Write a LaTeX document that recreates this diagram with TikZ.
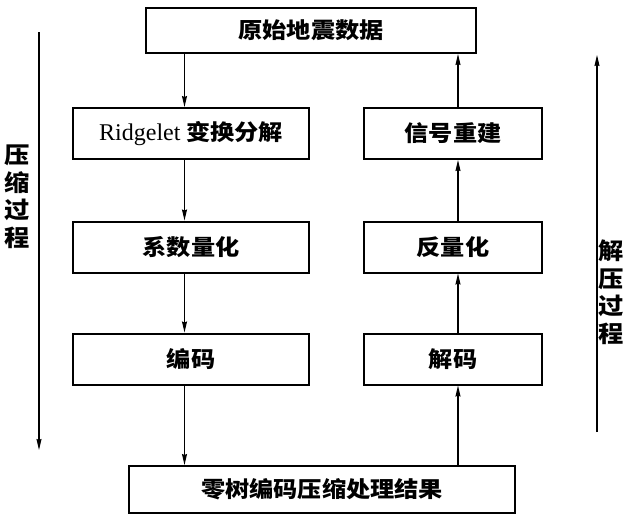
\documentclass[tikz,border=0pt]{standalone}
\usepackage{fontspec}
\setmainfont{Liberation Serif}
\newfontfamily\cjk{Noto Sans CJK SC}[FakeStretch=1.1]
\usetikzlibrary{arrows.meta}
\tikzset{
  box/.style={draw, line width=2pt, minimum height=51pt, inner sep=0pt, font=\fontsize{22}{24}\selectfont\cjk\bfseries},
  arr/.style={line width=1.1pt, -{Stealth[length=11pt,width=5pt,inset=1pt]}},
  side/.style={align=center, inner sep=0pt, font=\fontsize{23}{27.5}\selectfont\cjk\bfseries}
}
\begin{document}
\begin{tikzpicture}[x=1pt,y=-1pt]
\useasboundingbox (0,0) rectangle (627,515);
\node[box, minimum width=330pt, minimum height=45pt] (top) at (311,30.5) {原始地震数据};
\node[box, minimum width=236pt] (ridge) at (191,133.5) {{\rmfamily\mdseries\fontsize{24}{24}\selectfont Ridgelet} 变换分解};
\node[box, minimum width=178pt] (signal) at (453,133.5) {信号重建};
\node[box, minimum width=236pt] (quant) at (191,247) {系数量化};
\node[box, minimum width=178pt] (dequant) at (453,247) {反量化};
\node[box, minimum width=236pt] (enc) at (191,359) {编码};
\node[box, minimum width=178pt] (dec) at (453,359) {解码};
\node[box, minimum width=386pt, minimum height=47pt] (bottom) at (322,489.5) {零树编码压缩处理结果};
\coordinate (lx) at (184.5,0);
\coordinate (rx) at (458,0);
\draw[arr] (top.south -| lx) -- (ridge.north -| lx);
\draw[arr] (ridge.south -| lx) -- (quant.north -| lx);
\draw[arr] (quant.south -| lx) -- (enc.north -| lx);
\draw[arr] (enc.south -| lx) -- (bottom.north -| lx);
\draw[arr] (bottom.north -| rx) -- (dec.south -| rx);
\draw[arr] (dec.north -| rx) -- (dequant.south -| rx);
\draw[arr] (dequant.north -| rx) -- (signal.south -| rx);
\draw[arr] (signal.north -| rx) -- (top.south -| rx);
\coordinate (ls) at (39,32);
\coordinate (le) at (39,450);
\coordinate (rs) at (597,432);
\coordinate (re) at (597,55);
\draw[arr] (ls) -- (le);
\draw[arr] (rs) -- (re);
\node[side] (lab1) at (17,197) {压\\缩\\过\\程};
\node[side] (lab2) at (611,292) {解\\压\\过\\程};
\end{tikzpicture}
\end{document}
